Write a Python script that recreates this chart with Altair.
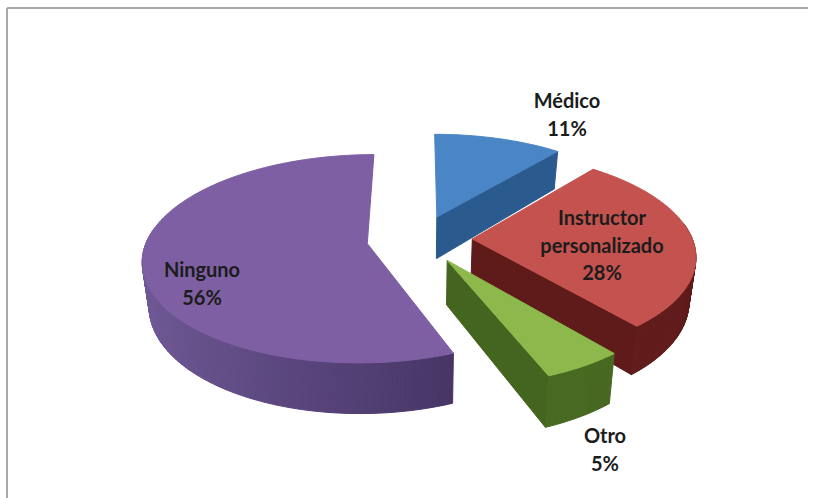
import math
import altair as alt

# Shares of the pie, clockwise from twelve o'clock
categories = ["Médico", "Instructor personalizado", "Otro", "Ninguno"]
shares = [11, 28, 5, 56]
label_lines = [["Médico", "11%"], ["Instructor", "personalizado", "28%"], ["Otro", "5%"], ["Ninguno", "56%"]]

# Colours: top face, wall in shadow, wall in light
top_colors = ["#4A85C6", "#C4524E", "#8CB84C", "#7E5FA3"]
wall_dark = ["#2B5A8E", "#5F1A1A", "#44651F", "#33244F"]
wall_light = ["#2B5A8E", "#722322", "#4F7425", "#715A98"]

# Placement of each label's first line, in chart pixels
label_x = [567, 602, 605, 202]
label_y = [102, 219, 437, 271]

# View of the tilted disc
CX, CY = 419.5, 239.0
RX, RZ = 220.0, 100.6
PERSPECTIVE = 0.145
THICKNESS = 43.0
FLOOR_SHRINK = 0.975
EXPLODE = 0.24
DRAW_ORDER = [0, 1, 3, 2]


def project(X, Z, drop=0.0):
    s = 1.0 / (1.0 + PERSPECTIVE * Z)
    shrink = FLOOR_SHRINK if drop else 1.0
    return [CX + RX * X * s * shrink, CY + (drop - RZ * Z) * s]


def mix(c1, c2, t):
    a = [int(c1[i:i + 2], 16) for i in (1, 3, 5)]
    b = [int(c2[i:i + 2], 16) for i in (1, 3, 5)]
    return "#%02x%02x%02x" % tuple(round(p + (q - p) * t) for p, q in zip(a, b))


def feature(ring, fill):
    closed = ring + [ring[0]]
    return {"type": "Feature", "properties": {"fill": fill},
            "geometry": {"type": "Polygon", "coordinates": [closed]}}


features = []
starts = [sum(shares[:i]) for i in range(len(shares))]
for i in DRAW_ORDER:
    a0 = starts[i] / 100 * 2 * math.pi
    a1 = (starts[i] + shares[i]) / 100 * 2 * math.pi
    mid = (a0 + a1) / 2
    ox, oz = EXPLODE * math.sin(mid), EXPLODE * math.cos(mid)
    steps = max(8, shares[i] * 4)
    angles = [a0 + (a1 - a0) * k / steps for k in range(steps + 1)]
    rim = [(ox + math.sin(a), oz + math.cos(a)) for a in angles]
    outline = [(ox, oz)] + rim

    # The closing cut face only turns towards the viewer on the right half
    if a1 < math.pi:
        p = rim[-1]
        quad = [project(ox, oz), project(*p), project(*p, THICKNESS), project(ox, oz, THICKNESS)]
        features.append(feature(quad, wall_dark[i]))
    # Curved wall, painted from back to front
    segments = sorted(range(steps), key=lambda k: -rim[k][1] - rim[k + 1][1])
    for k in segments:
        mid_angle = (angles[k] + angles[k + 1]) / 2
        if math.cos(mid_angle) > 0.15:
            continue
        p, q = rim[k], rim[k + 1]
        t = (1 - math.sin(mid_angle)) / 2
        quad = [project(*p), project(*q), project(*q, THICKNESS), project(*p, THICKNESS)]
        features.append(feature(quad, mix(wall_dark[i], wall_light[i], t)))
    features.append(feature([project(*p) for p in outline], top_colors[i]))

labels = [{"text": "\n".join(lines), "lon": x, "lat": y}
          for lines, x, y in zip(label_lines, label_x, label_y)]

projection = dict(type="identity", scale=1, translate=[0, 0])

pie = (
    alt.Chart(alt.Data(values=features))
    .mark_geoshape(strokeWidth=1.0)
    .encode(
        fill=alt.Fill("properties.fill:N", scale=None, legend=None),
        stroke=alt.Stroke("properties.fill:N", scale=None, legend=None),
    )
    .project(**projection)
)

text = (
    alt.Chart(alt.Data(values=labels))
    .mark_text(font="Lato", fontSize=20, fontWeight="bold", color="#1C1C1C",
               lineBreak="\n", lineHeight=27.5, align="center", baseline="middle")
    .encode(longitude="lon:Q", latitude="lat:Q", text="text:N")
    .project(**projection)
)

frame_top = alt.Chart(alt.Data(values=[{"k": 0}])).mark_rule(color="#A9A9A9", strokeWidth=2).encode(
    x=alt.value(7), x2=alt.value(808), y=alt.value(8))
frame_left = alt.Chart(alt.Data(values=[{"k": 0}])).mark_rule(color="#A9A9A9", strokeWidth=2).encode(
    x=alt.value(7), y=alt.value(8), y2=alt.value(498))

chart = (
    alt.layer(frame_top, frame_left, pie, text)
    .properties(width=817, height=498, padding=0, background="#FFFFFF",
                autosize=alt.AutoSizeParams(type="none"))
    .configure_view(stroke=None)
)

chart.save("out.html", embed_options={"renderer": "svg", "actions": False})
